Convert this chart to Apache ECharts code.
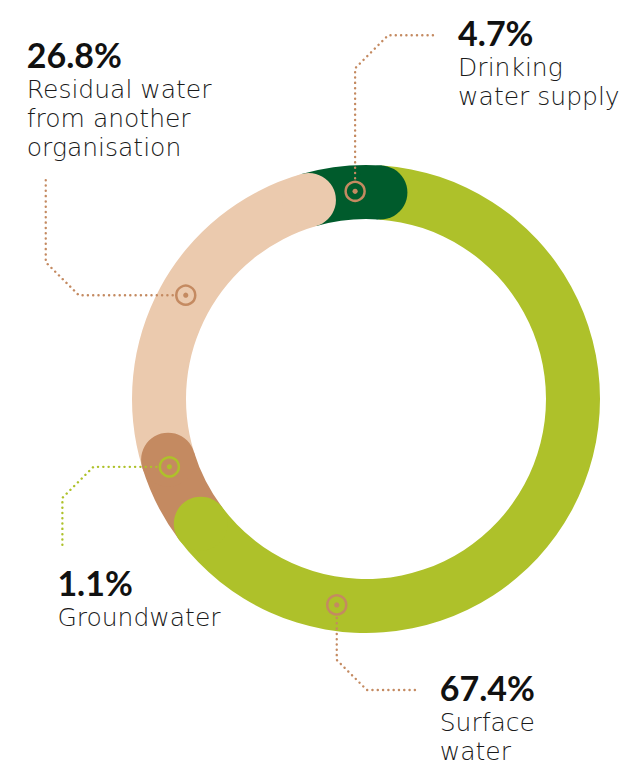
<!DOCTYPE html>
<html>
<head>
<meta charset="utf-8">
<title>Water sources</title>
<script src="https://cdn.jsdelivr.net/npm/echarts@6/dist/echarts.min.js"></script>
<style>
    html, body { margin: 0; padding: 0; background: #fff; }
    #chart { width: 636px; height: 765px; }
</style>
</head>
<body>
<div id="chart"></div>
<script>
// data
const names = ['Drinking\nwater supply', 'Surface\nwater', 'Groundwater', 'Residual water\nfrom another\norganisation'];
const values = [4.7, 67.4, 1.1, 26.8];

// looks
const colors = ['#005B2C', '#AEC12A', '#C48A61', '#EBCAAE'];
const markerColors = ['#C48A61', '#C48A61', '#AEC12A', '#C48A61'];
const markerFrac = [0.65, 0.804, 0.9, 0.516];
// dotted leader, offsets from the marker centre
const leaders = [
    [[0, -13], [0, -123], [33, -156], [83, -156]],
    [[0, 13], [0, 55], [30, 85], [82, 85]],
    [[-13, 0], [-76, 0], [-107, 31], [-107, 79]],
    [[-13, 0], [-107, 0], [-140, -33], [-140, -120]]
];
// top-left of each label, offset from the marker centre
const labelPos = [[103, -179], [103, 62], [-112, 95], [-159, -261]];
const minAngle = 20;
const startAngle = 106;

// same rule as a pie with minAngle: small ones get minAngle, the rest share what is left
function spans(vals) {
    const total = vals.reduce((a, b) => a + b, 0);
    let rest = 360, bigSum = 0;
    const small = vals.map(v => v / total * 360 < minAngle);
    vals.forEach((v, i) => { if (small[i]) rest -= minAngle; else bigSum += v; });
    let cur = 0;
    return vals.map((v, i) => {
        const a = small[i] ? minAngle : v / bigSum * rest;
        const seg = [cur, cur + a];
        cur += a;
        return seg;
    });
}
const segs = spans(values);

const chart = echarts.init(document.getElementById('chart'), null, { renderer: 'svg' });

function renderItem(params, api) {
    const i = params.dataIndex;
    const cs = params.coordSys;
    const cx = cs.cx, cy = cs.cy;
    const r0 = cs.r0, r = cs.r;
    const rMid = (r0 + r) / 2;
    const s = api.value(0), e = api.value(1);
    const pS = api.coord([rMid, s]);
    const pE = api.coord([rMid, e]);
    let a0 = Math.atan2(pS[1] - cy, pS[0] - cx);
    let a1 = Math.atan2(pE[1] - cy, pE[0] - cx);
    while (a1 <= a0) a1 += Math.PI * 2;
    const m = api.coord([rMid + 1, s + markerFrac[i] * (e - s)]);
    const pts = leaders[i].map(o => [m[0] + o[0], m[1] + o[1]]);
    const pct = values[i].toFixed(1) + '%';
    const lines = names[i].split('\n').map(t => '{n|' + t + '}').join('\n');
    return {
        type: 'group',
        children: [
            {
                type: 'sector',
                z2: 0,
                shape: { cx: cx, cy: cy, r0: r0, r: r, startAngle: a0, endAngle: a1, clockwise: true },
                style: { fill: colors[i] }
            },
            {
                // round end that laps over the next slice
                type: 'circle',
                z2: 10,
                shape: { cx: pE[0], cy: pE[1], r: (r - r0) / 2 },
                style: { fill: colors[i] }
            },
            {
                type: 'circle',
                z2: 20,
                shape: { cx: m[0], cy: m[1], r: 9.5 },
                style: { fill: null, stroke: markerColors[i], lineWidth: 2.5 }
            },
            {
                type: 'circle',
                z2: 20,
                shape: { cx: m[0], cy: m[1], r: 2.6 },
                style: { fill: markerColors[i] }
            },
            {
                type: 'polyline',
                z2: 20,
                shape: { points: pts },
                style: { fill: null, stroke: markerColors[i], lineWidth: 2.4, lineDash: [0.1, 5.2], lineCap: 'round' }
            },
            {
                type: 'text',
                z2: 20,
                style: {
                    x: m[0] + labelPos[i][0],
                    y: m[1] + labelPos[i][1],
                    text: '{p|' + pct + '}\n' + lines,
                    rich: {
                        p: { fontFamily: 'Lato', fontWeight: 'bold', fontSize: 34, lineHeight: 41, fill: '#111' },
                        n: { fontFamily: 'DejaVu Sans', fontWeight: 200, fontSize: 25, lineHeight: 29, fill: '#1a1a1a' }
                    },
                    verticalAlign: 'top',
                    align: 'left'
                }
            }
        ]
    };
}

const option = {
    backgroundColor: '#fff',
    animation: false,
    polar: {
        center: [366, 399],
        radius: [180, 234]
    },
    angleAxis: {
        type: 'value',
        min: 0,
        max: 360,
        startAngle: startAngle,
        clockwise: true,
        show: false
    },
    radiusAxis: {
        type: 'value',
        min: 180,
        max: 234,
        show: false
    },
    series: [
        {
            type: 'custom',
            coordinateSystem: 'polar',
            renderItem: renderItem,
            data: segs
        }
    ]
};
chart.setOption(option);
</script>
</body>
</html>
